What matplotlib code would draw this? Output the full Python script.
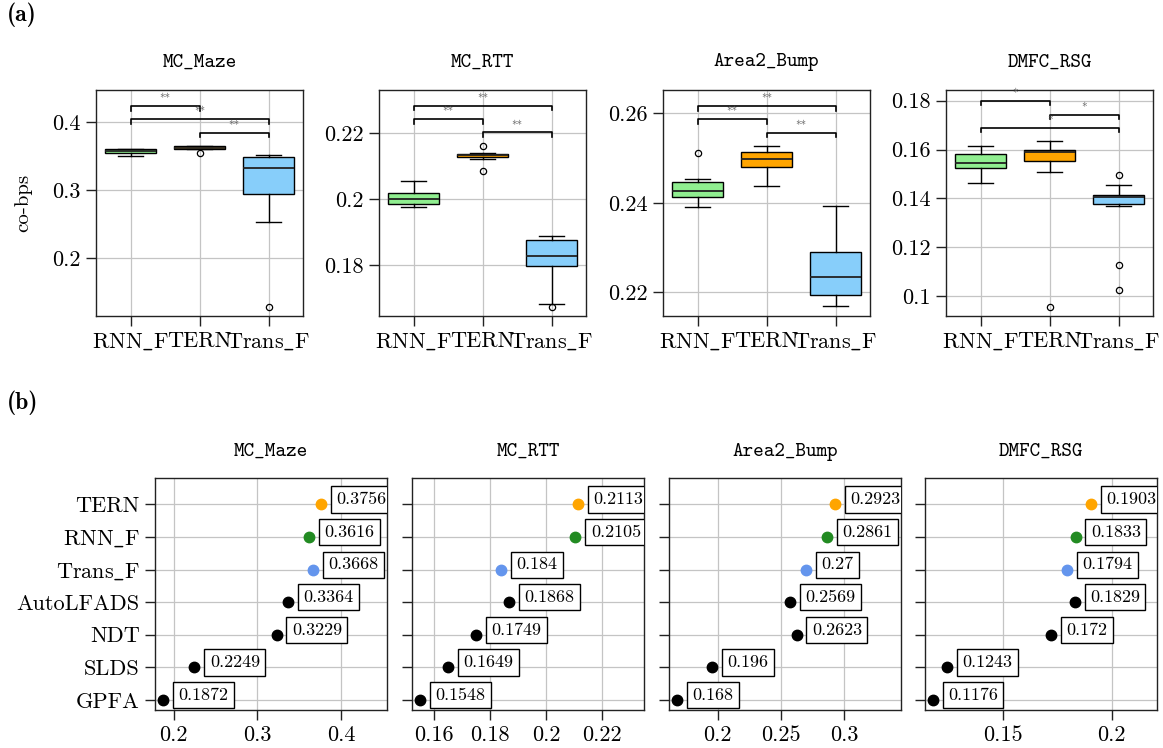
import matplotlib
matplotlib.use('Agg')
import matplotlib.pyplot as plt
import numpy as np

plt.rcParams['font.family'] = ['cmr10', 'DejaVu Serif']
plt.rcParams['mathtext.fontset'] = 'cm'
plt.rcParams['axes.unicode_minus'] = False

# --- data (a): box plots ---
datasets = ['MC_Maze', 'MC_RTT', 'Area2_Bump', 'DMFC_RSG']
box_models = ['RNN_F', 'TERN', 'Trans_F']
box_med = [[0.357, 0.362, 0.333], [0.2000, 0.2134, 0.1828], [0.2427, 0.2497, 0.2235], [0.1544, 0.1589, 0.1404]]
box_q1 = [[0.3545, 0.3605, 0.294], [0.1986, 0.2129, 0.1797], [0.2412, 0.2480, 0.2194], [0.1524, 0.1552, 0.1377]]
box_q3 = [[0.3598, 0.3645, 0.349], [0.2018, 0.2138, 0.1876], [0.2446, 0.2514, 0.2291], [0.1581, 0.1600, 0.1412]]
box_lo = [[0.3505, 0.3600, 0.2525], [0.1977, 0.2123, 0.1681], [0.2390, 0.2438, 0.2169], [0.1461, 0.1507, 0.1368]]
box_hi = [[0.3600, 0.3650, 0.352], [0.2055, 0.2141, 0.1889], [0.2454, 0.2526, 0.2393], [0.1614, 0.1633, 0.1456]]
box_fliers = [[[], [0.3545], [0.1275]],
              [[], [0.2160, 0.2086], [0.1671]],
              [[0.2511], [], []],
              [[], [0.0954], [0.1495, 0.1128, 0.1025]]]
box_colors = ['lightgreen', 'orange', 'lightskyblue']

sig_pairs = [(0, 1), (0, 2), (1, 2)]
sig_heights = [[0.4235, 0.4044, 0.3843], [0.2243, 0.2283, 0.2202],
               [0.2587, 0.2616, 0.2556], [0.1800, 0.1689, 0.1743]]
sig_labels = [['**', '**', '**'], ['**', '**', '**'], ['**', '**', '**'], ['*', '*', '*']]

top_ylims = [(0.115, 0.447), (0.1645, 0.2331), (0.2147, 0.2652), (0.0918, 0.1844)]
top_yticks = [[0.2, 0.3, 0.4], [0.18, 0.2, 0.22], [0.22, 0.24, 0.26], [0.1, 0.12, 0.14, 0.16, 0.18]]

# --- data (b): best co-bps per model ---
models = ['TERN', 'RNN_F', 'Trans_F', 'AutoLFADS', 'NDT', 'SLDS', 'GPFA']
scores = {
    'MC_Maze':    [0.3756, 0.3616, 0.3668, 0.3364, 0.3229, 0.2249, 0.1872],
    'MC_RTT':     [0.2113, 0.2105, 0.184, 0.1868, 0.1749, 0.1649, 0.1548],
    'Area2_Bump': [0.2923, 0.2861, 0.27, 0.2569, 0.2623, 0.196, 0.168],
    'DMFC_RSG':   [0.1903, 0.1833, 0.1794, 0.1829, 0.172, 0.1243, 0.1176],
}
point_colors = ['orange', 'forestgreen', 'cornflowerblue', 'black', 'black', 'black', 'black']
bottom_xticks = [[0.2, 0.3, 0.4], [0.16, 0.18, 0.2, 0.22], [0.2, 0.25, 0.3], [0.15, 0.2]]


def tex_label(s):
    # cmr10 has a dot accent where '_' should be, so draw the underscore in mathtext
    return s.replace('_', r'$\_$')


W, H = 1163, 748
fig = plt.figure(figsize=(W / 100, H / 100), dpi=100)


def px_axes(left, top, w, h):
    return fig.add_axes([left / W, 1 - (top + h) / H, w / W, h / H])


def style_axes(ax):
    ax.set_axisbelow(True)
    ax.grid(True, color='#c4c4c4', lw=0.9)
    for s in ax.spines.values():
        s.set_color('#222222')
        s.set_linewidth(1.0)
    ax.tick_params(length=7, width=1, color='#222222', labelsize=16, pad=4)


top_left = [96, 379, 663, 946]
for i, name in enumerate(datasets):
    ax = px_axes(top_left[i], 90, 207, 226)
    stats = []
    for j in range(3):
        stats.append(dict(med=box_med[i][j], q1=box_q1[i][j], q3=box_q3[i][j],
                          whislo=box_lo[i][j], whishi=box_hi[i][j], fliers=box_fliers[i][j]))
    bp = ax.bxp(stats, positions=[1, 2, 3], widths=0.75, patch_artist=True,
                boxprops=dict(edgecolor='black', linewidth=1.0),
                medianprops=dict(color='#222222', linewidth=1.3),
                whiskerprops=dict(color='black', linewidth=1.0),
                capprops=dict(color='black', linewidth=1.0),
                flierprops=dict(marker='o', markerfacecolor='none', markeredgecolor='black',
                                markersize=4.5, markeredgewidth=0.9))
    for patch, c in zip(bp['boxes'], box_colors):
        patch.set_facecolor(c)
    ax.set_xlim(0.5, 3.5)
    ax.set_ylim(*top_ylims[i])
    ax.set_xticks([1, 2, 3], [tex_label(m) for m in box_models])
    ax.set_yticks(top_yticks[i], [f'{t:g}' for t in top_yticks[i]])
    style_axes(ax)
    ax.set_title(name, family='cmtt10', fontsize=14.5, pad=17)

    tick_h = 0.02 * (top_ylims[i][1] - top_ylims[i][0])
    for (a, b), yb, lab in zip(sig_pairs, sig_heights[i], sig_labels[i]):
        xa, xb = a + 1, b + 1
        ax.plot([xa, xa, xb, xb], [yb - tick_h, yb, yb, yb - tick_h], color='black', lw=1.2,
                clip_on=False)
        ax.annotate(lab, ((xa + xb) / 2, yb), xytext=(0, 1), textcoords='offset points',
                    ha='center', va='bottom', fontsize=8, color='#555555')

fig.text(23 / W, 1 - 203 / H, 'co-bps', rotation=90, ha='center', va='center', fontsize=15)

bottom_left = [155, 412, 669, 925]
ypos = np.arange(len(models))[::-1]
for i, name in enumerate(datasets):
    ax = px_axes(bottom_left[i], 478, 232, 232)
    vals = scores[name]
    for v, y, c in zip(vals, ypos, point_colors):
        ax.plot(v, y, 'o', color=c, ms=7.5, zorder=3)
        ax.annotate(f'{v:g}', (v, y), xytext=(11, 3.5), textcoords='offset points',
                    ha='left', va='center', fontsize=13, zorder=4, clip_on=True,
                    bbox=dict(boxstyle='square,pad=0.3', fc='white', ec='black', lw=1.0))
    rng = max(vals) - min(vals)
    ax.set_xlim(min(vals) - 0.05 * rng, max(vals) + 0.42 * rng)
    ax.set_ylim(-0.31, len(models) - 1 + 0.81)
    ax.set_xticks(bottom_xticks[i], [f'{t:g}' for t in bottom_xticks[i]])
    ax.set_yticks(ypos, [tex_label(m) for m in models] if i == 0 else [])
    style_axes(ax)
    ax.set_title(name, family='cmtt10', fontsize=14.5, pad=16)

fig.text(7 / W, 1 - 15 / H, '(a)', family='cmb10', fontsize=17, va='center', ha='left')
fig.text(7 / W, 1 - 403 / H, '(b)', family='cmb10', fontsize=17, va='center', ha='left')

fig.savefig('out.png', dpi=100)
